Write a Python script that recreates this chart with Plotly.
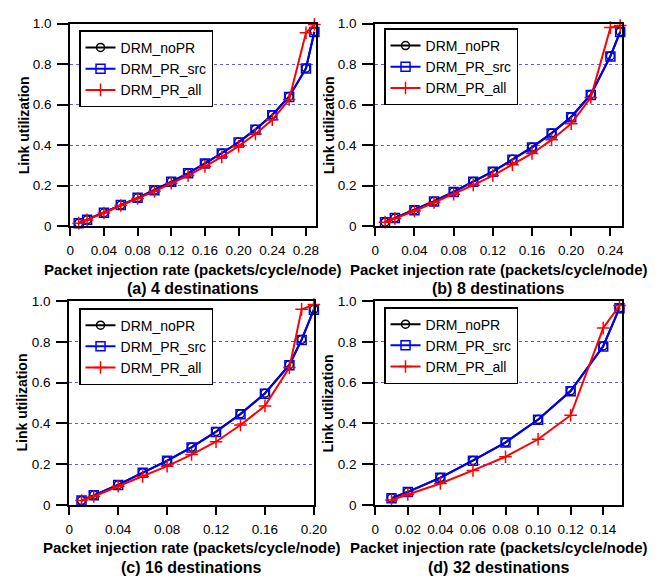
import plotly.graph_objects as go

# ---------------- data ----------------
series_names = ["DRM_noPR", "DRM_PR_src", "DRM_PR_all"]

x_a = [0.01, 0.02, 0.04, 0.06, 0.08, 0.10, 0.12, 0.14, 0.16, 0.18, 0.20, 0.22, 0.24, 0.26, 0.28, 0.29]
a_noPR = [0.015, 0.032, 0.066, 0.104, 0.140, 0.178, 0.220, 0.262, 0.310, 0.360, 0.415, 0.478, 0.550, 0.640, 0.780, 0.960]
a_src = [0.015, 0.032, 0.066, 0.104, 0.140, 0.177, 0.219, 0.261, 0.309, 0.359, 0.413, 0.476, 0.548, 0.638, 0.778, 0.958]
a_all = [0.015, 0.031, 0.065, 0.102, 0.137, 0.172, 0.212, 0.250, 0.295, 0.342, 0.395, 0.455, 0.525, 0.625, 0.955, 0.995]

x_b = [0.01, 0.02, 0.04, 0.06, 0.08, 0.10, 0.12, 0.14, 0.16, 0.18, 0.20, 0.22, 0.24, 0.25]
b_noPR = [0.020, 0.040, 0.080, 0.123, 0.170, 0.220, 0.270, 0.330, 0.390, 0.460, 0.540, 0.650, 0.840, 0.960]
b_src = [0.020, 0.040, 0.079, 0.122, 0.169, 0.219, 0.269, 0.328, 0.388, 0.458, 0.538, 0.648, 0.838, 0.958]
b_all = [0.020, 0.038, 0.075, 0.117, 0.158, 0.203, 0.250, 0.303, 0.359, 0.426, 0.506, 0.635, 0.980, 0.990]

x_c = [0.01, 0.02, 0.04, 0.06, 0.08, 0.10, 0.12, 0.14, 0.16, 0.18, 0.19, 0.20]
c_noPR = [0.021, 0.048, 0.099, 0.158, 0.217, 0.283, 0.360, 0.447, 0.548, 0.688, 0.812, 0.960]
c_src = [0.021, 0.047, 0.098, 0.157, 0.216, 0.282, 0.358, 0.445, 0.546, 0.686, 0.810, 0.958]
c_all = [0.021, 0.041, 0.091, 0.139, 0.190, 0.247, 0.310, 0.392, 0.486, 0.674, 0.960, 0.984]

x_d = [0.01, 0.02, 0.04, 0.06, 0.08, 0.10, 0.12, 0.14, 0.15]
d_noPR = [0.033, 0.064, 0.134, 0.218, 0.307, 0.419, 0.560, 0.780, 0.967]
d_src = [0.032, 0.063, 0.133, 0.217, 0.306, 0.418, 0.558, 0.778, 0.965]
d_all = [0.024, 0.051, 0.105, 0.169, 0.236, 0.322, 0.440, 0.868, 0.979]

captions = ["(a) 4 destinations", "(b) 8 destinations", "(c) 16 destinations", "(d) 32 destinations"]
x_title = "Packet injection rate (packets/cycle/node)"
y_title = "Link utilization"

xt_a = [0, 0.04, 0.08, 0.12, 0.16, 0.20, 0.24, 0.28]
xl_a = ["0", "0.04", "0.08", "0.12", "0.16", "0.20", "0.24", "0.28"]
xt_b = [0, 0.04, 0.08, 0.12, 0.16, 0.20, 0.24]
xl_b = ["0", "0.04", "0.08", "0.12", "0.16", "0.20", "0.24"]
xt_c = [0, 0.04, 0.08, 0.12, 0.16, 0.20]
xl_c = ["0", "0.04", "0.08", "0.12", "0.16", "0.20"]
xt_d = [0, 0.02, 0.04, 0.06, 0.08, 0.10, 0.12, 0.14]
xl_d = ["0", "0.02", "0.04", "0.06", "0.08", "0.10", "0.12", "0.14"]
yt = [0, 0.2, 0.4, 0.6, 0.8, 1.0]
yl = ["0", "0.2", "0.4", "0.6", "0.8", "1.0"]

x_ranges = [[0, 0.2917], [0, 0.2516], [0, 0.2], [0, 0.1514]]

# ---------------- layout geometry (pixels) ----------------
W, H = 664, 582
FONT = "Liberation Sans, Arial, sans-serif"
panels = [
    dict(x0=68, x1=320, y0=17, y1=225, data=(x_a, a_noPR, a_src, a_all), xt=xt_a, xl=xl_a, leg=(77, 24)),
    dict(x0=381, x1=634, y0=17, y1=225, data=(x_b, b_noPR, b_src, b_all), xt=xt_b, xl=xl_b, leg=(390, 22)),
    dict(x0=67, x1=318, y0=302, y1=511, data=(x_c, c_noPR, c_src, c_all), xt=xt_c, xl=xl_c, leg=(77, 309)),
    dict(x0=381, x1=634, y0=302, y1=511, data=(x_d, d_noPR, d_src, d_all), xt=xt_d, xl=xl_d, leg=(390, 308)),
]

styles = [
    dict(color="black", symbol="circle-open", size=8),
    dict(color="#0000ff", symbol="square-open", size=9),
    dict(color="#ff0000", symbol="cross-thin-open", size=9),
]

fig = go.Figure()
layout = dict(
    width=W, height=H, margin=dict(l=0, r=0, t=0, b=0),
    paper_bgcolor="white", plot_bgcolor="white",
    font=dict(family=FONT, color="black", size=14),
    annotations=[],
)

for i, p in enumerate(panels):
    n = "" if i == 0 else str(i + 1)
    xs, v0, v1, v2 = p["data"]
    legname = "legend" + n
    for j, (vals, st) in enumerate(zip((v0, v1, v2), styles)):
        fig.add_trace(go.Scatter(
            x=xs, y=vals, mode="lines+markers", name=series_names[j],
            xaxis="x" + n, yaxis="y" + n, legend=legname, cliponaxis=False,
            line=dict(color=st["color"], width=2),
            marker=dict(symbol=st["symbol"], size=st["size"], color=st["color"],
                        line=dict(color=st["color"], width=1.5)),
        ))
    xd = [p["x0"] / W, p["x1"] / W]
    yd = [1 - p["y1"] / H, 1 - p["y0"] / H]
    layout["xaxis" + n] = dict(
        domain=xd, anchor="y" + n, range=x_ranges[i],
        tickvals=p["xt"], ticktext=p["xl"], ticks="outside", ticklen=8, tickwidth=1.5,
        tickcolor="black", showline=True, linecolor="black", linewidth=2, mirror=True,
        showgrid=False, zeroline=False, tickfont=dict(size=13.5, family=FONT),
        ticklabelstandoff=3,
    )
    layout["yaxis" + n] = dict(
        domain=yd, anchor="x" + n, range=[0, 1],
        tickvals=yt, ticktext=yl, ticks="outside", ticklen=11, tickwidth=1.5,
        tickcolor="black", showline=True, linecolor="black", linewidth=2, mirror=True,
        showgrid=True, gridcolor="#5a5aff", griddash="dot", gridwidth=1,
        zeroline=False, tickfont=dict(size=13.5, family=FONT), ticklabelstandoff=3,
    )
    layout[legname] = dict(
        x=p["leg"][0] / W, y=1 - p["leg"][1] / H, xanchor="left", yanchor="top",
        bordercolor="black", borderwidth=1.5, bgcolor="white",
        font=dict(size=14, family=FONT), tracegroupgap=0,
    )
    cx = (p["x0"] + p["x1"]) / 2 / W
    layout["annotations"].append(dict(
        text="<b>" + x_title + "</b>", x=cx, y=1 - (p["y1"] + 44) / H, xref="paper", yref="paper",
        xanchor="center", yanchor="middle", showarrow=False, font=dict(size=15, family=FONT)))
    layout["annotations"].append(dict(
        text="<b>" + captions[i] + "</b>", x=cx, y=1 - (p["y1"] + 64) / H, xref="paper", yref="paper",
        xanchor="center", yanchor="middle", showarrow=False, font=dict(size=16, family=FONT)))
    layout["annotations"].append(dict(
        text="<b>" + y_title + "</b>", x=(p["x0"] - 48) / W, y=1 - (p["y0"] + p["y1"]) / 2 / H,
        xref="paper", yref="paper", textangle=-90,
        xanchor="center", yanchor="middle", showarrow=False, font=dict(size=14, family=FONT)))

fig.update_layout(**layout)
fig.write_html("out.html")
